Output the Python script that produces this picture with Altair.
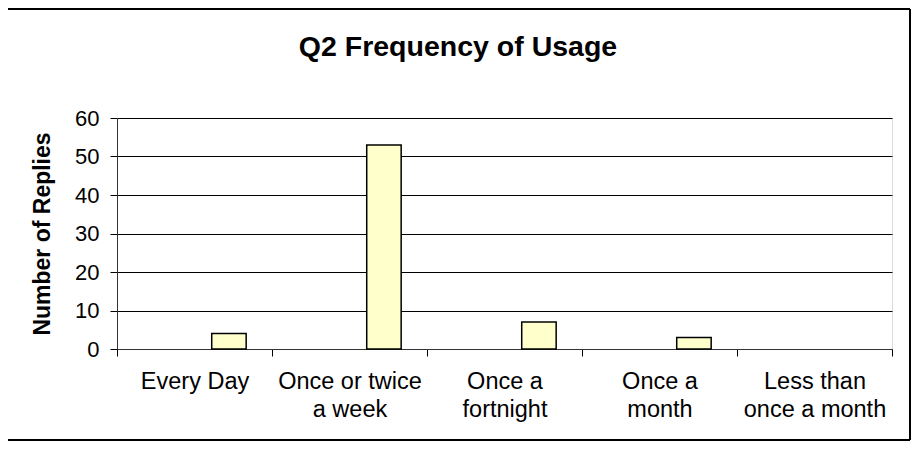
import altair as alt
import pandas as pd

categories = ["Every Day", "Once or twice\na week", "Once a\nfortnight", "Once a\nmonth", "Less than\nonce a month"]
replies = [4, 53, 7, 3, 0]
series = ["s3", "s3", "s3", "s3", "s3"]
series_domain = ["s1", "s2", "s3"]
y_ticks = [0, 10, 20, 30, 40, 50, 60]
title_text = "Q2 Frequency of Usage"

df = pd.DataFrame({"category": categories, "replies": replies, "series": series})

FONT = "Liberation Sans"
W, H = 775, 231

bars = alt.Chart(df).transform_filter("datum.replies > 0").mark_bar(
    fill="#FFFFCC", stroke="black", strokeWidth=1.5).encode(
    x=alt.X("category:N", sort=categories,
            scale=alt.Scale(domain=categories, paddingInner=0, paddingOuter=0),
            axis=alt.Axis(title=None, labelAngle=0, tickBand="extent", tickSize=7,
                          tickColor="black", domainColor="#333333", labelColor="black",
                          labelFont=FONT, labelFontSize=23.5, labelPadding=13,
                          labelLineHeight=28,
                          labelExpr="split(datum.label, '\\n')")),
    xOffset=alt.XOffset("series:N", scale=alt.Scale(domain=series_domain, paddingOuter=0.75, paddingInner=0)),
    y=alt.Y("replies:Q", scale=alt.Scale(domain=[0, 60], nice=False),
            axis=alt.Axis(values=y_ticks, grid=True, gridColor="black", gridWidth=1,
                          tickSize=7, tickColor="black", domainColor="#333333",
                          labelColor="black", labelFont=FONT, labelFontSize=22, labelPadding=11,
                          title="Number of Replies", titleFont=FONT, titleFontSize=23,
                          titleFontWeight="bold", titleColor="black", titlePadding=20)),
)

frame_data = alt.Data(values=[{}])
title_mark = alt.Chart(frame_data).mark_text(
    font=FONT, fontSize=28.5, fontWeight="bold", color="black",
    align="center", baseline="alphabetic").encode(
    x=alt.value(341), y=alt.value(-62), text=alt.value(title_text))
top_rule = alt.Chart(frame_data).mark_rule(color="black", strokeWidth=2).encode(
    x=alt.value(-110), x2=alt.value(W + 18), y=alt.value(-109))
right_rule = alt.Chart(frame_data).mark_rule(color="black", strokeWidth=2).encode(
    x=alt.value(W + 18), y=alt.value(-109), y2=alt.value(H + 91))
bottom_rule = alt.Chart(frame_data).mark_rule(color="black", strokeWidth=2).encode(
    x=alt.value(-110), x2=alt.value(W + 18), y=alt.value(H + 91))

chart = alt.layer(bars, title_mark, top_rule, right_rule, bottom_rule).properties(
    width=W, height=H,
    autosize=alt.AutoSizeParams(type="none"),
    padding={"left": 109, "top": 110, "right": 19, "bottom": 93},
).configure_view(fill="#C0C0C0", stroke="#808080", strokeWidth=2
).configure(background="white")

chart.save("out.html", embed_options={"renderer": "svg", "actions": False})
